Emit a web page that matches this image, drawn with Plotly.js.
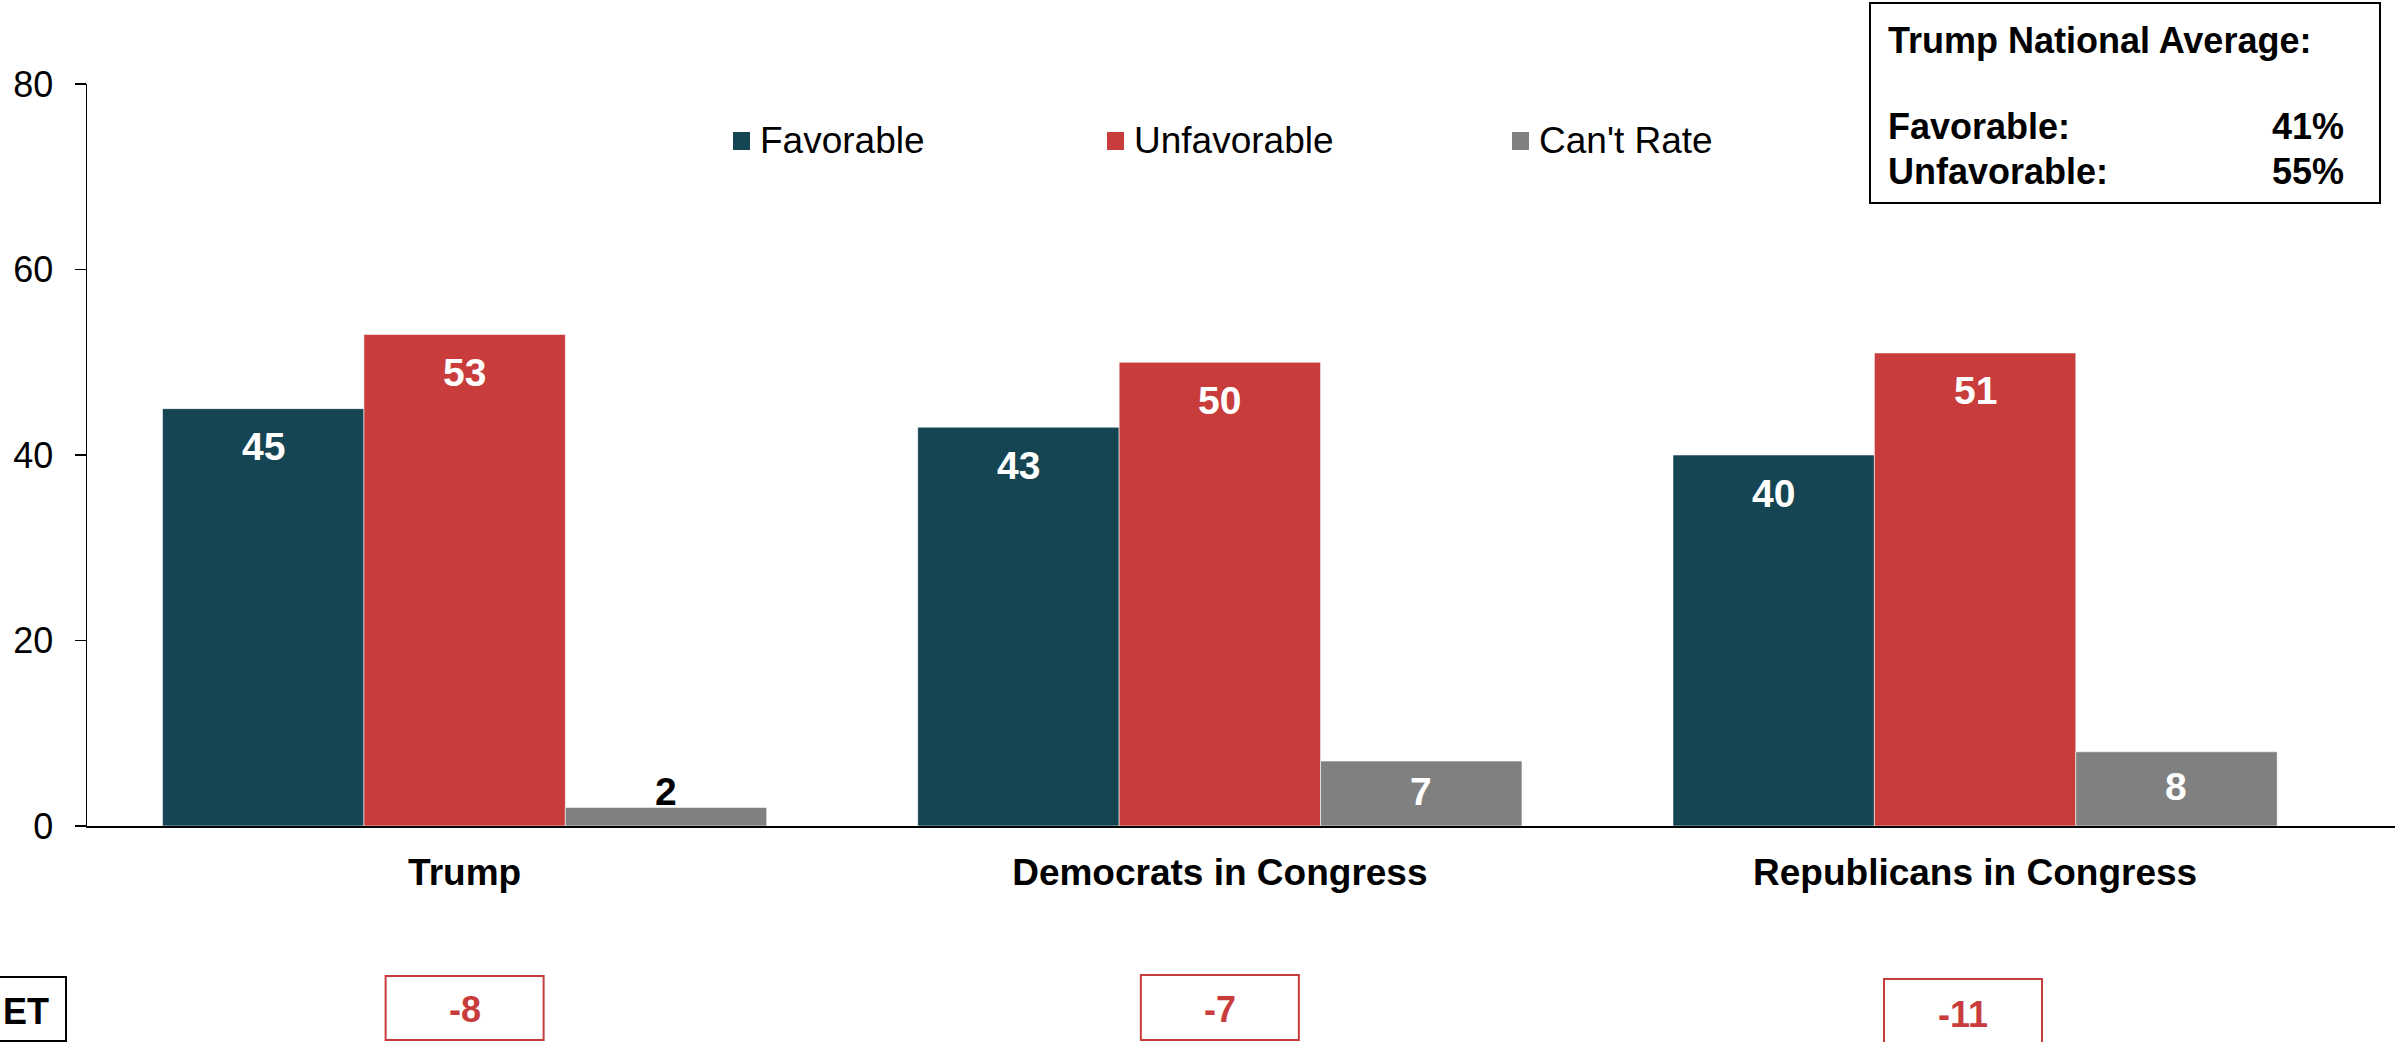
<!DOCTYPE html>
<html>
<head>
<meta charset="utf-8">
<script src="https://cdn.plot.ly/plotly-3.0.1.min.js"></script>
<style>
html,body{margin:0;padding:0;background:#fff;}
#chart{width:2395px;height:1042px;}
</style>
</head>
<body>
<div id="chart"></div>
<script>
// ---- data ----
const categories = ["Trump", "Democrats in Congress", "Republicans in Congress"];
const favorable = [45, 43, 40];
const unfavorable = [53, 50, 51];
const cantRate = [2, 7, 8];
const seriesNames = ["Favorable", "Unfavorable", "Can't Rate"];
const yTicks = [0, 20, 40, 60, 80];
const nationalTitle = "Trump National Average:";
const nationalLabels = ["Favorable:", "Unfavorable:"];
const nationalValues = ["41%", "55%"];
const netLabel = "ET";

// ---- styles ----
const FONT = "Arial, 'Liberation Sans', sans-serif";
const colFav = "#154452";
const colUnf = "#C93C3C";
const colCant = "#808080";
const seriesColors = [colFav, colUnf, colCant];
const barLine = {color: "rgba(255,255,255,0.55)", width: 1};

const traces = [
  {type: "bar", name: seriesNames[0], x: categories, y: favorable,
   marker: {color: colFav, line: barLine}, hoverinfo: "y", cliponaxis: false},
  {type: "bar", name: seriesNames[1], x: categories, y: unfavorable,
   marker: {color: colUnf, line: barLine}, hoverinfo: "y", cliponaxis: false},
  {type: "bar", name: seriesNames[2], x: categories, y: cantRate,
   marker: {color: colCant, line: barLine}, hoverinfo: "y", cliponaxis: false}
];

const plotW = 2395 - 87;
const xRange = [-0.5, 2.556];
const catPx = plotW / (xRange[1] - xRange[0]);
const barPx = catPx * 0.8 / 3;

const LBL = {family: FONT, size: 39, weight: "bold"};
const annotations = [];
categories.forEach((c, i) => {
  annotations.push({x: c, y: favorable[i], xref: "x", yref: "y", xshift: -barPx, yshift: -38,
    text: String(favorable[i]), showarrow: false, yanchor: "middle",
    font: Object.assign({color: "#ffffff"}, LBL)});
  annotations.push({x: c, y: unfavorable[i], xref: "x", yref: "y", xshift: 0, yshift: -38,
    text: String(unfavorable[i]), showarrow: false, yanchor: "middle",
    font: Object.assign({color: "#ffffff"}, LBL)});
  const small = cantRate[i] < 4;
  annotations.push({x: c, y: small ? cantRate[i] : cantRate[i] / 2, xref: "x", yref: "y", xshift: barPx,
    yshift: small ? -8 : 2, text: String(cantRate[i]), showarrow: false, yanchor: small ? "bottom" : "middle",
    font: Object.assign({color: small ? "#000000" : "#ffffff"}, LBL)});
});

// paper coordinate helpers
const L = 87, T = 84, B = 826, H = B - T;
const px2x = p => (p - L) / plotW;
const py2y = p => (B - p) / H;

// manual legend (square markers + labels)
const legendMarkX = [733, 1107, 1512];
const shapes = [];
seriesNames.forEach((n, k) => {
  shapes.push({type: "rect", xref: "paper", yref: "paper",
    x0: px2x(legendMarkX[k]), x1: px2x(legendMarkX[k] + 17), y0: py2y(150), y1: py2y(132),
    line: {width: 0}, fillcolor: seriesColors[k]});
  annotations.push({xref: "paper", yref: "paper", x: px2x(legendMarkX[k] + 25), y: py2y(141),
    xanchor: "left", yanchor: "middle", text: n, showarrow: false,
    font: {family: FONT, size: 37, color: "#000"}});
});

// national average box
const NB = {family: FONT, size: 36, weight: "bold", color: "#000"};
shapes.push({type: "rect", xref: "paper", yref: "paper", x0: px2x(1870), x1: px2x(2380), y0: py2y(203), y1: py2y(3),
   line: {color: "#000", width: 2}, fillcolor: "rgba(0,0,0,0)"});
annotations.push({xref: "paper", yref: "paper", x: px2x(1886), y: py2y(41), xanchor: "left", yanchor: "middle",
  text: nationalTitle, showarrow: false, font: NB});
nationalLabels.forEach((lab, k) => {
  const yy = [126, 172][k];
  annotations.push({xref: "paper", yref: "paper", x: px2x(1886), y: py2y(yy), xanchor: "left", yanchor: "middle",
    text: lab, showarrow: false, font: NB});
  annotations.push({xref: "paper", yref: "paper", x: px2x(2346), y: py2y(yy), xanchor: "right", yanchor: "middle",
    text: nationalValues[k], showarrow: false, font: NB});
});

// NET box on the left edge
shapes.push({type: "rect", xref: "paper", yref: "paper", x0: px2x(-92), x1: px2x(66), y0: py2y(1041), y1: py2y(977),
   line: {color: "#000", width: 2}, fillcolor: "rgba(0,0,0,0)"});
annotations.push({xref: "paper", yref: "paper", x: px2x(1), y: py2y(1011), xanchor: "left", yanchor: "middle",
  text: netLabel, showarrow: false, font: {family: FONT, size: 36, weight: "bold", color: "#000"}});

// net difference boxes
const netShift = [0, 0, -0.016];
const netTop = [976, 975, 979];
const netBot = [1040, 1040, 1046];
categories.forEach((c, i) => {
  const net = favorable[i] - unfavorable[i];
  const half = 79 / catPx;
  shapes.push({type: "rect", xref: "x", yref: "paper", x0: i + netShift[i] - half, x1: i + netShift[i] + half,
    y0: py2y(netBot[i]), y1: py2y(netTop[i]), line: {color: colUnf, width: 2}, fillcolor: "rgba(0,0,0,0)"});
  annotations.push({xref: "x", yref: "paper", x: i + netShift[i], y: py2y((netTop[i] + netBot[i]) / 2 + 2),
    xanchor: "center", yanchor: "middle", text: String(net), showarrow: false,
    font: {family: FONT, size: 36, weight: "bold", color: colUnf}});
});

const layout = {
  width: 2395, height: 1042,
  margin: {l: L, r: 0, t: T, b: 1042 - B, pad: 0},
  paper_bgcolor: "#fff", plot_bgcolor: "#fff",
  barmode: "group", bargap: 0.2, bargroupgap: 0,
  font: {family: FONT, color: "#000"},
  showlegend: false,
  xaxis: {type: "category", range: xRange, showline: true, linecolor: "#000", linewidth: 2,
          ticks: "", showgrid: false, zeroline: false, ticklabelstandoff: 13,
          tickfont: {family: FONT, size: 37, weight: "bold", color: "#000"}},
  yaxis: {range: [0, 80], tickvals: yTicks, ticktext: yTicks.map(String), showline: true, linecolor: "#000",
          linewidth: 1.5, ticks: "outside", ticklen: 11, tickwidth: 1.5, tickcolor: "#000",
          showgrid: false, zeroline: false, ticklabelstandoff: 14,
          tickfont: {family: FONT, size: 36, color: "#000"}},
  annotations: annotations,
  shapes: shapes
};

Plotly.newPlot("chart", traces, layout, {displayModeBar: false, staticPlot: true});
</script>
</body>
</html>
